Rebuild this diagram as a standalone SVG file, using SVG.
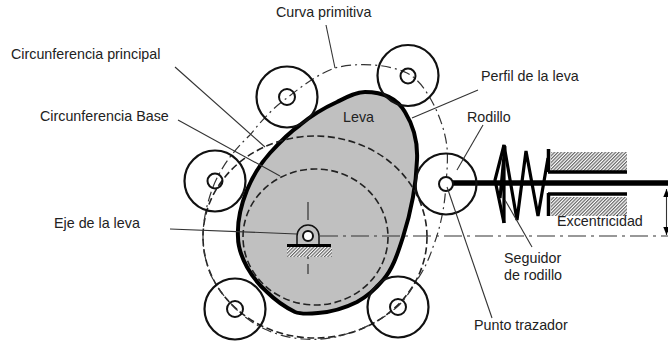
<svg xmlns="http://www.w3.org/2000/svg" width="668" height="343" viewBox="0 0 668 343">
<style>
text{font-family:"Liberation Sans",Arial,sans-serif;font-size:14.3px;fill:#222}
.roller{fill:none;stroke:#111;stroke-width:2.2}
.pin{fill:#fff;stroke:#111;stroke-width:2}
.hub{fill:none;stroke:#111;stroke-width:2}
.lead{fill:none;stroke:#333;stroke-width:1.1}
.center{fill:none;stroke:#333;stroke-width:1.2;stroke-dasharray:18 5 3 5}
.prim{fill:none;stroke:#333;stroke-width:1.2;stroke-dasharray:10 4 2 4}
.dash{fill:none;stroke:#222;stroke-width:1.6;stroke-dasharray:7 3.500}
.thick{fill:none;stroke:#000}
</style>
<defs>
<pattern id="hatch" width="2.400" height="2.400" patternUnits="userSpaceOnUse" patternTransform="rotate(45)">
<rect width="2.400" height="2.400" fill="#fff"/><rect width="1.200" height="2.400" fill="#666"/>
</pattern>
<marker id="ah" viewBox="0 0 10 10" refX="10" refY="5" markerWidth="11" markerHeight="8" orient="auto-start-reverse" markerUnits="userSpaceOnUse"><path d="M0 1L10 5L0 9Z" fill="#000"/></marker>
</defs>
<rect width="668" height="343" fill="#fff"/>
<g id="cam">
<path d="M365 92C385 92 398 100 405 112C413 125 418 140 417 160C416 190 410 215 403 237C397 256 392 270 383 280C374 291 366 297 357 302C345 308 333 312 318 313C308 314 300 314 295 312C285 307 275 300 267 292C258 284 252 276 247 267C241 256 238 247 238 237C237 220 241 205 247 190C254 173 261 163 270 153C280 142 290 132 300 125C312 115 326 107 337 102C347 97 356 92 365 92Z" fill="#c0c0c0" stroke="#000" stroke-width="4"/>
<text x="343" y="122">Leva</text>
</g>
<g id="curves">
<ellipse cx="315.500" cy="237" rx="72.500" ry="68" class="dash"/>
<ellipse cx="315" cy="237" rx="112" ry="101" class="dash"/>
<path d="M213 187C221 167 234 150 250 135C262 120 274 107 287 98C302 86 318 74 335 68C358 62 388 64 407 73C416 78 422 85 427 93C438 110 445 130 447 147C448 160 447 172 446 183C445 205 441 226 433 247C429 259 424 270 417 280C411 290 405 300 397 307C389 314 381 319 373 323C363 329 353 332 343 335C330 339 316 340 303 339C290 338 278 335 267 330C255 325 244 317 235 308C224 297 215 285 210 273C205 260 203 248 203 237C203 220 207 203 213 187Z" class="prim"/>
</g>
<g id="axis">
<path d="M320 236H668" class="center"/>
<path d="M308 202V274" class="center"/>
</g>
<g id="pivot">
<rect x="287" y="247" width="45" height="10" fill="url(#hatch)"/>
<path d="M297 245V236A11 11 0 0 1 319 236V245" fill="#c0c0c0" stroke="#111" stroke-width="1.500"/>
<path d="M287 245.500H331" class="thick" stroke-width="2.800"/>
<circle cx="308" cy="236" r="5" class="pin" stroke-width="1.500"/>
</g>
<g id="roller-top-right"><circle cx="408" cy="75.500" r="30.500" class="roller"/><circle cx="408" cy="76" r="7.500" class="hub"/></g>
<g id="roller-top-left"><circle cx="287" cy="97" r="30.500" class="roller"/><circle cx="287" cy="97" r="8" class="hub"/></g>
<g id="roller-left"><circle cx="215" cy="181" r="30.500" class="roller"/><circle cx="215" cy="181" r="7.500" class="hub"/></g>
<g id="roller-bottom-left"><circle cx="235" cy="309" r="30.500" class="roller"/><circle cx="235" cy="309" r="8" class="hub"/></g>
<g id="roller-bottom-right"><circle cx="398" cy="307" r="30.500" class="roller"/><circle cx="398" cy="307" r="8" class="hub"/></g>
<g id="follower">
<rect x="551" y="152" width="76" height="19" fill="url(#hatch)"/>
<rect x="551" y="197" width="76" height="19" fill="url(#hatch)"/>
<path d="M548.500 149V172M548.500 193V216" class="thick" stroke-width="3.500"/>
<path d="M548 172H627M548 194H627" class="thick" stroke-width="3.500"/>
<path d="M448 183H668" class="thick" stroke-width="5.500"/>
<path d="M504 223L495 180L504 145L517 220L526 151L538 216L548 158" fill="none" stroke="#000" stroke-width="3.200" stroke-linejoin="miter"/>
<path d="M504 223V145M500 198L505 146" class="thick" stroke-width="3.200"/>
<circle cx="446" cy="184" r="30.500" class="roller"/>
<circle cx="446" cy="184" r="7" class="pin"/>
</g>
<g id="connectors">
<path d="M326 25L335 68" class="lead"/>
<path d="M175 67L265 147" class="lead"/>
<path d="M178 120L280 176" class="lead"/>
<path d="M478 90L412 118" class="lead"/>
<path d="M483 125L457 170" class="lead"/>
<path d="M170 229L297 234" class="lead"/>
<path d="M505 200L532 247" class="lead"/>
<path d="M447 187L492 318" class="lead"/>
<path d="M666.500 189V235" class="lead" marker-start="url(#ah)" marker-end="url(#ah)"/>
</g>
<g id="labels">
<text x="276" y="17">Curva primitiva</text>
<text x="11" y="59">Circunferencia principal</text>
<text x="40" y="121">Circunferencia Base</text>
<text x="481" y="81">Perfil de la leva</text>
<text x="467" y="122">Rodillo</text>
<text x="54" y="228">Eje de la leva</text>
<text x="557" y="226">Excentricidad</text>
<text x="504" y="263">Seguidor</text>
<text x="504" y="280">de rodillo</text>
<text x="474" y="330">Punto trazador</text>
</g>
</svg>
